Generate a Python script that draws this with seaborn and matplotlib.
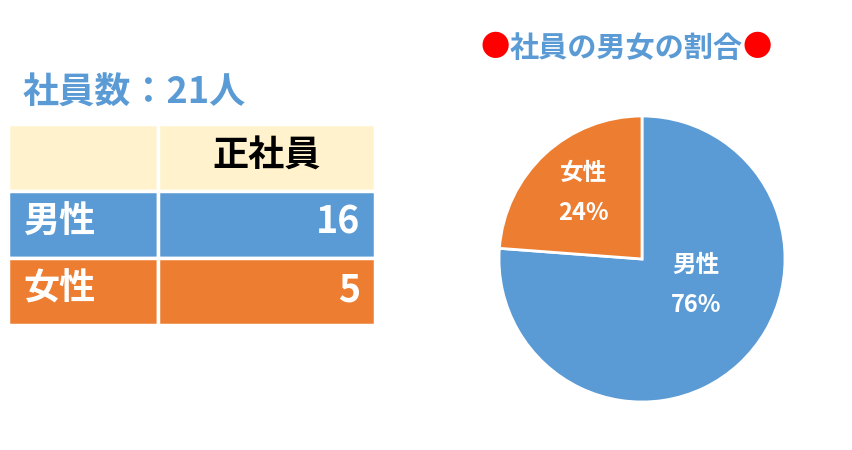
import seaborn as sns
import matplotlib.pyplot as plt
from matplotlib.patches import Rectangle

# data
groups = ['男性', '女性']
counts = [16, 5]
header = '正社員'
title_left = '社員数：21人'
title_pie = '社員の男女の割合'

blue = '#5B9BD5'
orange = '#ED7D31'
cream = '#FFF2CC'
colors = [blue, orange]

sns.set_theme(style='white')
plt.rcParams['font.family'] = ['Noto Sans CJK JP', 'DejaVu Sans']

fig = plt.figure(figsize=(8.53, 4.5), dpi=100)

# left: table drawn in pixel coordinates
ax = fig.add_axes([0, 0, 1, 1])
ax.set_xlim(0, 853)
ax.set_ylim(450, 0)
ax.axis('off')

ax.text(23, 93, title_left, color=blue, fontsize=26, fontweight='bold',
        ha='left', va='center')

x0, xm, x1 = 8, 158, 375
row_top, row_h = 124, 67
# header row
for a, b in [(x0, xm), (xm, x1)]:
    ax.add_patch(Rectangle((a, row_top), b - a, row_h, facecolor=cream,
                           edgecolor='white', lw=2.5))
ax.text((xm + x1) / 2, row_top + row_h / 2 - 1, header, fontsize=26,
        fontweight='bold', color='black', ha='center', va='center')

for i, (g, n) in enumerate(zip(groups, counts)):
    y = row_top + row_h * (i + 1)
    for a, b in [(x0, xm), (xm, x1)]:
        ax.add_patch(Rectangle((a, y), b - a, row_h, facecolor=colors[i],
                               edgecolor='white', lw=2.5))
    ax.text(23, y + row_h / 2 - 2, g, fontsize=26, fontweight='bold',
            color='white', ha='left', va='center')
    ax.text(360, y + row_h / 2 - 2, str(n), fontsize=27, fontweight='bold',
            color='white', ha='right', va='center')

# right: pie
cx, cy, r = 642, 259, 143
pax = fig.add_axes([(cx - r) / 853, (450 - cy - r) / 450, 2 * r / 853, 2 * r / 450])
wedges, _ = pax.pie(counts, colors=colors, startangle=90, counterclock=False,
                    wedgeprops=dict(edgecolor='white', linewidth=2))
pax.set_xlim(-1, 1)
pax.set_ylim(-1, 1)
pax.set_aspect('equal')

total = sum(counts)
label_pos = [(0.38, -0.18), (-0.41, 0.46)]
for g, n, (lx, ly) in zip(groups, counts, label_pos):
    pax.text(lx, ly, f'{g}\n\n{round(n / total * 100)}%', color='white',
             fontsize=17, fontweight='bold', ha='center', va='center',
             linespacing=0.8)

t = fig.text(626 / 853, 1 - 48 / 450, title_pie, color=blue, fontsize=21,
             fontweight='bold', ha='center', va='center')
fig.canvas.draw()
bb = t.get_window_extent()
fig.text(bb.x0 / 853, 1 - 48 / 450, '●', color='red', fontsize=21,
         ha='right', va='center')
fig.text(bb.x1 / 853, 1 - 48 / 450, '●', color='red', fontsize=21,
         ha='left', va='center')

fig.savefig('out.png', dpi=100)
